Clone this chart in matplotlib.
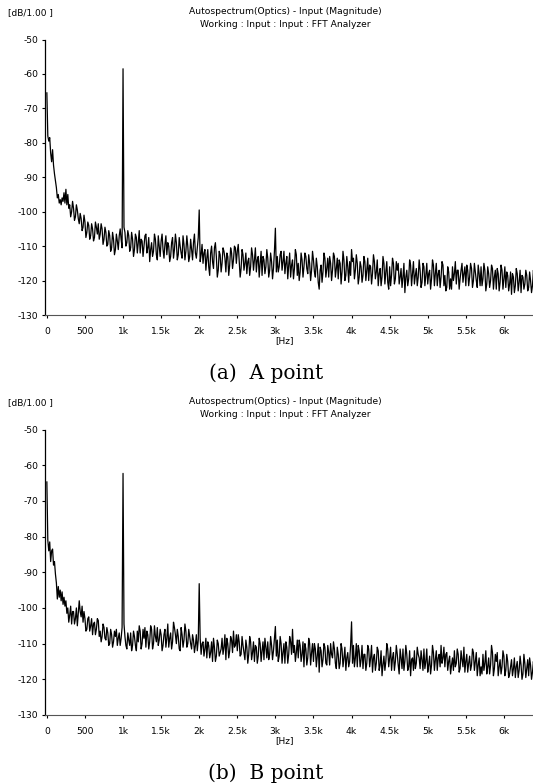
import numpy as np
import matplotlib
matplotlib.use("Agg")
import matplotlib.pyplot as plt

plt.rcParams['axes.unicode_minus'] = False

# low-frequency part, 12.5 Hz bins (0 .. 287.5 Hz)
lf_freq = np.arange(0, 300, 12.5)
# rest of the spectrum: 25 Hz bins (300 .. 6400 Hz) plus the bins in between
floor_freq = np.arange(300, 6401, 25)
mid_freq = np.arange(312.5, 6400, 25)

lf_a = [-65.5, -78, -79.5, -78.5, -83, -85.5, -82, -86.5,
        -89, -91, -93, -96, -95, -97.5, -96.5, -98,
        -96, -97, -94.5, -97.5, -93.5, -98, -95, -99]

floor_a = [
    -98, -100, -99, -101.5, -99.5, -103.5, -102, -104.5,
    -103, -106, -104, -107, -105, -107.5, -104.5, -103.5,
    -106.5, -105, -108, -106, -109.5, -107, -110.5, -108,
    -111, -108.5, -107, -108, -107.5, -106, -109, -107,
    -110.5, -108, -111, -107.5, -109, -112, -108.5, -110,
    -106.5, -110.5, -114.5, -109, -111.5, -108, -114, -110,
    -108.5, -111, -109.5, -112.5, -110, -113, -107.5, -111,
    -109, -112.5, -110, -113.5, -109.5, -111.5, -110, -113,
    -111, -109, -112, -110.5, -110, -112.5, -115, -111,
    -113.5, -116, -112, -114.5, -110.5, -113, -117, -112.5,
    -115, -111.5, -117.5, -113, -115.5, -112, -114, -110.5,
    -111.5, -114, -116.5, -112.5, -115, -118, -113.5, -116,
    -112.5, -114, -117.5, -113, -115, -118.5, -114, -116,
    -113.5, -117, -114.5, -116.5, -114, -113, -116, -111.5,
    -114.5, -118, -113, -115.5, -119, -114, -116.5, -112.5,
    -115, -117.5, -114, -116, -113, -118, -115, -117,
    -114, -119, -116, -122.5, -115.5, -117.5, -113.5, -116.5,
    -119, -115, -117, -113, -116.5, -119.5, -115, -117.5,
    -114, -118.5, -116, -114.5, -116, -113.5, -117, -115,
    -119, -116, -118.5, -114.5, -117, -120, -116, -118,
    -114.5, -117.5, -121.5, -116.5, -119, -115, -117.5, -120.5,
    -116, -118.5, -115, -119.5, -117, -121, -116.5, -119,
    -123.5, -117, -119.5, -115.5, -118, -121, -116.5, -119,
    -117, -120.5, -116, -118.5, -121, -117, -119.5, -115.5,
    -118, -121.5, -117, -119, -115.5, -118.5, -122, -117.5,
    -119.5, -116, -118, -121, -117, -119.5, -115, -118,
    -121.5, -117, -119, -116.5, -120, -117.5, -122, -118,
    -116, -119.5, -117, -121, -118, -120, -116.5, -119,
    -122.5, -118, -120.5, -117, -119.5, -122, -118.5, -121,
    -124, -119, -121.5, -118, -120.5, -123.5, -119, -121,
    -118.5, -122, -120, -121.5, -119.5]

mid_a = [
    -101.5, -97, -102.5, -98, -102, -100.5, -105.5, -101,
    -107.5, -103, -108, -103.5, -108.5, -103, -106.5, -108,
    -103.5, -109.5, -104.5, -110, -105.5, -111.5, -106, -112.5,
    -106.5, -111, -105, -110.5, -104.5, -110, -105.5, -111.5,
    -106, -113, -106.5, -112, -105.5, -108, -113, -107,
    -112, -107.5, -111, -113, -106.5, -112.5, -107, -113,
    -106.5, -113.5, -107, -109, -114.5, -109, -113.5, -106.5,
    -114, -107.5, -112, -107, -114, -107, -114.5, -108,
    -114, -106.5, -113.5, -107.5, -114.5, -109.5, -112, -117,
    -111, -118.5, -110, -116.5, -109, -119, -111.5, -117.5,
    -110.5, -113.5, -112, -118.5, -110.5, -116.5, -110, -115,
    -109.5, -119, -111, -117, -112, -114.5, -118.5, -110.5,
    -117, -110.5, -114, -119, -111.5, -113, -118, -111,
    -119, -112, -119.5, -111.5, -117.5, -117.5, -112.5, -117,
    -111.5, -115, -119.5, -112, -115.5, -119.5, -111, -118.5,
    -120, -112, -119, -112, -116.5, -112.5, -120, -111.5,
    -117.5, -113.5, -120.5, -117, -120.5, -112, -119, -113.5,
    -113, -120, -112, -119, -113.5, -114, -121, -111.5,
    -120, -113, -120.5, -118.5, -114.5, -119.5, -112.5, -121,
    -114.5, -120.5, -113, -120, -113.5, -115.5, -121, -112.5,
    -119.5, -114, -118, -121.5, -113, -121, -114.5, -122.5,
    -121.5, -113.5, -121, -114.5, -115, -119, -122, -115,
    -119, -121.5, -114, -121.5, -114.5, -118.5, -121.5, -114,
    -122, -115, -121.5, -115, -118, -122.5, -114, -121.5,
    -115, -118, -122, -114.5, -121.5, -123, -116, -122.5,
    -122.5, -120, -114.5, -117, -122.5, -117, -120.5, -116,
    -115.5, -121.5, -115, -122, -115, -120, -115.5, -121.5,
    -121.5, -115, -123, -116, -122, -115.5, -122.5, -117,
    -116.5, -123, -115.5, -122.5, -116, -117.5, -123, -117.5,
    -118, -123.5, -116.5, -123, -117, -118.5, -122.5, -117,
    -123, -117.5, -123.5, -117]

peak_freq_a = [1000, 2000, 3000, 4000]
peak_db_a = [-58.5, -99.5, -104.8, -111]

lf_b = [-64.7, -81, -84, -81.5, -87, -84, -83.5, -88,
        -87, -90.5, -93, -97.5, -94, -97, -95, -98,
        -95.5, -99, -97, -99.5, -98, -101.5, -100, -104]

floor_b = [
    -102, -104.5, -101, -103, -105, -98, -102.5, -104,
    -103, -106, -102.5, -105, -107.5, -104, -106, -103.5,
    -106.5, -108, -105.5, -109, -107, -110, -107.5, -109.5,
    -108, -110.5, -107, -108.5, -106.5, -108, -111.5, -109,
    -107, -110.5, -108, -112, -109.5, -106.5, -110, -108.5,
    -111, -107.5, -109.5, -106, -110, -108, -105.5, -109,
    -107.5, -110.5, -106, -108.5, -111, -107, -109.5, -105.5,
    -110, -108, -112, -107.5, -109, -106.5, -110, -108,
    -111.5, -109, -110.5, -112, -111, -113, -109.5, -111.5,
    -114, -110.5, -112.5, -115, -111, -113.5, -110, -112.5,
    -108.5, -111, -114.5, -110, -112, -109, -106.5, -110.5,
    -112, -109.5, -113, -110.5, -114.5, -111, -113, -109.5,
    -112.5, -115, -111, -113.5, -110, -112, -114.5, -111,
    -109.5, -113, -110.5, -112, -111, -109, -113.5, -110,
    -112.5, -115.5, -111, -113, -109.5, -106, -110.5, -112.5,
    -114, -110.5, -113, -116.5, -111.5, -114, -110, -112.5,
    -115, -111.5, -113.5, -118, -112, -114.5, -111, -116,
    -112.5, -110, -114, -111.5, -117, -113, -115.5, -111.5,
    -114, -117.5, -112.5, -115, -112, -110.5, -114, -116.5,
    -112, -114.5, -117, -113, -115.5, -111.5, -114, -118,
    -113, -115.5, -112, -116, -119, -113.5, -115, -111.5,
    -114, -117.5, -112.5, -115, -113, -118.5, -114, -111.5,
    -115, -113, -116.5, -119, -114, -112, -115.5, -113,
    -117, -114.5, -111.5, -115, -118, -113.5, -116, -112.5,
    -114.5, -117.5, -113, -110.5, -114, -116.5, -112.5, -115,
    -118.5, -114, -112, -115.5, -113, -117, -114.5, -111,
    -115, -118, -113.5, -116, -112.5, -115, -119, -114,
    -116.5, -113, -115.5, -118.5, -114, -116, -112.5, -117,
    -115, -119, -114.5, -116.5, -113.5, -117.5, -115, -118.5,
    -114.5, -117, -119.5, -115, -117.5, -116, -118.5, -115.5,
    -117, -119, -116, -118, -117.5]

mid_b = [
    -99.5, -101, -104.5, -100, -101.5, -101, -99.5, -101,
    -106.5, -103, -106.5, -103, -104.5, -107.5, -103, -108,
    -109.5, -104.5, -108.5, -105.5, -110.5, -106, -111, -106.5,
    -106, -108.5, -110.5, -105.5, -104.5, -110.5, -107, -110.5,
    -112, -106.5, -110.5, -106.5, -105, -111.5, -106, -105.5,
    -106.5, -111.5, -105, -111.5, -105, -109.5, -110.5, -106,
    -112, -107.5, -111, -104.5, -108.5, -111.5, -104, -107.5,
    -106, -111.5, -105.5, -111, -104.5, -111, -106, -110,
    -107.5, -112.5, -107.5, -109, -108.5, -110, -113.5, -108.5,
    -109.5, -114, -109.5, -108.5, -115, -109, -113.5, -111.5,
    -113, -107.5, -108.5, -114, -108, -112.5, -111, -107.5,
    -107.5, -113.5, -108, -112.5, -109, -115.5, -108, -114.5,
    -109.5, -110.5, -115.5, -108.5, -115, -109.5, -108.5, -114,
    -114.5, -108, -114.5, -108.5, -113.5, -115, -108, -115.5,
    -110, -109.5, -115.5, -108, -113, -112.5, -115, -109,
    -109, -115, -109.5, -110, -116, -108.5, -116, -110,
    -110, -116.5, -110, -111, -116.5, -110, -115.5, -110.5,
    -116, -113, -109.5, -115.5, -111, -117, -110, -116.5,
    -111, -114, -116.5, -110.5, -115.5, -116.5, -110, -110.5,
    -116.5, -110.5, -113, -117.5, -110.5, -116.5, -110.5, -114,
    -117.5, -111, -117.5, -112, -116, -117.5, -110, -116.5,
    -111, -114, -117.5, -110.5, -116, -111.5, -117, -117.5,
    -110.5, -117.5, -112, -114.5, -117.5, -117, -111, -114,
    -112, -117.5, -117, -111.5, -116, -118.5, -110.5, -117.5,
    -112, -114, -116.5, -115.5, -111, -113, -117.5, -113.5,
    -116, -117.5, -116.5, -111.5, -118, -112, -116.5, -118,
    -113, -115.5, -117.5, -111.5, -117.5, -112.5, -116, -119,
    -118.5, -117.5, -112, -116.5, -118.5, -110.5, -119, -113,
    -112.5, -116.5, -118.5, -112, -119, -113, -119.5, -116.5,
    -119, -114, -116.5, -119.5, -113.5, -120, -113, -119.5,
    -114.5, -114, -120, -115]

peak_freq_b = [1000, 2000, 3000, 4000]
peak_db_b = [-62.3, -93.2, -105.2, -103.9]

y_ticks = [-50, -60, -70, -80, -90, -100, -110, -120, -130]
x_ticks = [0, 500, 1000, 1500, 2000, 2500, 3000, 3500, 4000, 4500, 5000, 5500, 6000]
x_labels = ['0', '500', '1k', '1.5k', '2k', '2.5k', '3k', '3.5k', '4k', '4.5k', '5k', '5.5k', '6k']

title1 = 'Autospectrum(Optics) - Input (Magnitude)'
title2 = 'Working : Input : Input : FFT Analyzer'

W, H = 533, 783
fig = plt.figure(figsize=(W / 100, H / 100), dpi=100)


def px(x, y):
    return x / W, 1 - y / H


def draw_panel(top, bottom, lf_db, floor_db, mid_db, pk_f, pk_db, caption):
    freq = np.concatenate([lf_freq, floor_freq, mid_freq])
    db = np.concatenate([lf_db, floor_db, mid_db])
    order = np.argsort(freq)
    freq, db = freq[order], db[order]
    db[np.searchsorted(freq, pk_f)] = pk_db

    left = 44.5
    ax = fig.add_axes([left / W, 1 - bottom / H, (W - left) / W, (bottom - top) / H])
    ax.plot(freq, db, color='black', lw=0.9)
    ax.set_xlim(-31, 6382)
    ax.set_ylim(-130, -50)

    for s in ['top', 'right']:
        ax.spines[s].set_visible(False)
    ax.spines['left'].set_linewidth(0.9)
    ax.spines['bottom'].set_color('#555555')
    ax.spines['bottom'].set_linewidth(0.8)

    ax.set_yticks(y_ticks)
    ax.set_yticklabels([str(v) for v in y_ticks])
    ax.set_xticks(x_ticks)
    ax.set_xticklabels(x_labels)
    ax.tick_params(axis='y', direction='out', length=2.5, width=0.8, pad=2, labelsize=6.6)
    ax.tick_params(axis='x', direction='out', length=2.5, width=0.8, pad=6, labelsize=6.6)

    fig.text(*px(8, top - 27), '[dB/1.00 ]', fontsize=6.5, va='center', ha='left')
    fig.text(*px(285, top - 28), title1, fontsize=6.6, va='center', ha='center')
    fig.text(*px(285, top - 15), title2, fontsize=6.6, va='center', ha='center')
    fig.text(*px(285, bottom + 26), '[Hz]', fontsize=6.5, va='center', ha='center')
    fig.text(*px(266, bottom + 58), caption, fontsize=14.5, family='DejaVu Serif',
             va='center', ha='center')


draw_panel(39.5, 315, lf_a, floor_a, mid_a, peak_freq_a, peak_db_a, '(a)  A point')
draw_panel(429.5, 715, lf_b, floor_b, mid_b, peak_freq_b, peak_db_b, '(b)  B point')

fig.savefig('out.png', dpi=100)
